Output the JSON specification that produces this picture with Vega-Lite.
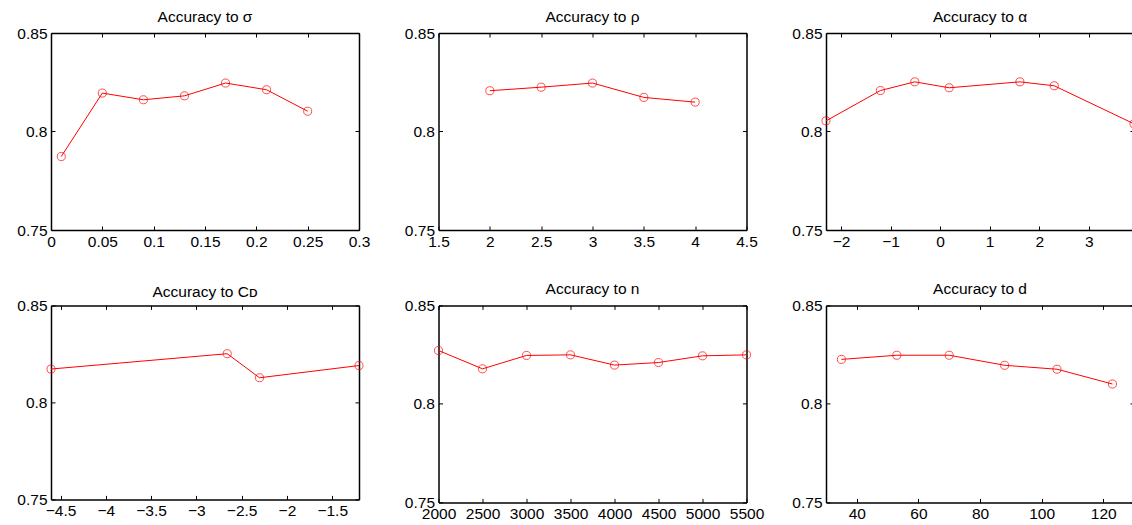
{
  "$schema": "https://vega.github.io/schema/vega-lite/v6.json",
  "background": "white",
  "padding": {"left": 16, "top": 9, "right": 0, "bottom": 0},
  "datasets": {
    "sigma": [
      {"x": 0.01, "acc": 0.7873}, {"x": 0.05, "acc": 0.8195}, {"x": 0.09, "acc": 0.8161},
      {"x": 0.13, "acc": 0.8181}, {"x": 0.17, "acc": 0.8246}, {"x": 0.21, "acc": 0.8212},
      {"x": 0.25, "acc": 0.8103}
    ],
    "rho": [
      {"x": 2, "acc": 0.8207}, {"x": 2.5, "acc": 0.8225}, {"x": 3, "acc": 0.8246},
      {"x": 3.5, "acc": 0.8173}, {"x": 4, "acc": 0.8149}
    ],
    "alpha": [
      {"x": -2.3026, "acc": 0.8054}, {"x": -1.204, "acc": 0.8208}, {"x": -0.5108, "acc": 0.8252},
      {"x": 0.1823, "acc": 0.8222}, {"x": 1.6094, "acc": 0.8252}, {"x": 2.3026, "acc": 0.8232},
      {"x": 3.912, "acc": 0.8039}
    ],
    "cd": [
      {"x": -4.6052, "acc": 0.8172}, {"x": -2.6593, "acc": 0.8251}, {"x": -2.3026, "acc": 0.8127},
      {"x": -1.204, "acc": 0.819}
    ],
    "n": [
      {"x": 2000, "acc": 0.8271}, {"x": 2500, "acc": 0.8178}, {"x": 3000, "acc": 0.8246},
      {"x": 3500, "acc": 0.8249}, {"x": 4000, "acc": 0.8197}, {"x": 4500, "acc": 0.821},
      {"x": 5000, "acc": 0.8244}, {"x": 5500, "acc": 0.8249}
    ],
    "d": [
      {"x": 35, "acc": 0.8226}, {"x": 53, "acc": 0.8247}, {"x": 70, "acc": 0.8247},
      {"x": 88, "acc": 0.8196}, {"x": 105, "acc": 0.8176}, {"x": 123, "acc": 0.8101}
    ]
  },
  "columns": 3,
  "bounds": "flush",
  "spacing": {"row": 75.4, "column": 79.5},
  "concat": [
    {
      "width": 308, "height": 197,
      "title": {"text": "Accuracy to σ"},
      "data": {"name": "sigma"},
      "layer": [
        {"mark": {"type": "line", "color": "#ff0000", "strokeWidth": 1},
         "encoding": {
           "x": {"field": "x", "type": "quantitative", "scale": {"domain": [0, 0.3], "nice": false, "zero": false},
                 "axis": {"orient": "bottom", "values": [0, 0.05, 0.1, 0.15, 0.2, 0.25, 0.3]}},
           "y": {"field": "acc", "type": "quantitative", "scale": {"domain": [0.75, 0.85], "nice": false, "zero": false},
                 "axis": {"orient": "left", "values": [0.75, 0.8, 0.85]}}}},
        {"mark": {"type": "point", "shape": "circle", "color": "#ff0000", "filled": false, "size": 65, "strokeWidth": 1},
         "encoding": {
           "x": {"field": "x", "type": "quantitative", "axis": {"orient": "top", "labels": false, "values": [0, 0.05, 0.1, 0.15, 0.2, 0.25, 0.3]}},
           "y": {"field": "acc", "type": "quantitative", "axis": {"orient": "right", "labels": false, "values": [0.75, 0.8, 0.85]}}}}
      ],
      "resolve": {"axis": {"x": "independent", "y": "independent"}}
    },
    {
      "width": 308, "height": 197,
      "title": {"text": "Accuracy to ρ"},
      "data": {"name": "rho"},
      "layer": [
        {"mark": {"type": "line", "color": "#ff0000", "strokeWidth": 1},
         "encoding": {
           "x": {"field": "x", "type": "quantitative", "scale": {"domain": [1.5, 4.5], "nice": false, "zero": false},
                 "axis": {"orient": "bottom", "values": [1.5, 2, 2.5, 3, 3.5, 4, 4.5]}},
           "y": {"field": "acc", "type": "quantitative", "scale": {"domain": [0.75, 0.85], "nice": false, "zero": false},
                 "axis": {"orient": "left", "values": [0.75, 0.8, 0.85]}}}},
        {"mark": {"type": "point", "shape": "circle", "color": "#ff0000", "filled": false, "size": 65, "strokeWidth": 1},
         "encoding": {
           "x": {"field": "x", "type": "quantitative", "axis": {"orient": "top", "labels": false, "values": [1.5, 2, 2.5, 3, 3.5, 4, 4.5]}},
           "y": {"field": "acc", "type": "quantitative", "axis": {"orient": "right", "labels": false, "values": [0.75, 0.8, 0.85]}}}}
      ],
      "resolve": {"axis": {"x": "independent", "y": "independent"}}
    },
    {
      "width": 308, "height": 197,
      "title": {"text": "Accuracy to α"},
      "data": {"name": "alpha"},
      "layer": [
        {"mark": {"type": "line", "color": "#ff0000", "strokeWidth": 1},
         "encoding": {
           "x": {"field": "x", "type": "quantitative", "scale": {"domain": [-2.3026, 3.912], "nice": false, "zero": false},
                 "axis": {"orient": "bottom", "values": [-2, -1, 0, 1, 2, 3]}},
           "y": {"field": "acc", "type": "quantitative", "scale": {"domain": [0.75, 0.85], "nice": false, "zero": false},
                 "axis": {"orient": "left", "values": [0.75, 0.8, 0.85]}}}},
        {"mark": {"type": "point", "shape": "circle", "color": "#ff0000", "filled": false, "size": 65, "strokeWidth": 1},
         "encoding": {
           "x": {"field": "x", "type": "quantitative", "axis": {"orient": "top", "labels": false, "values": [-2, -1, 0, 1, 2, 3]}},
           "y": {"field": "acc", "type": "quantitative", "axis": {"orient": "right", "labels": false, "values": [0.75, 0.8, 0.85]}}}}
      ],
      "resolve": {"axis": {"x": "independent", "y": "independent"}}
    },
    {
      "width": 308, "height": 194,
      "title": {"text": "Accuracy to Cᴅ", "offset": -2},
      "data": {"name": "cd"},
      "layer": [
        {"mark": {"type": "line", "color": "#ff0000", "strokeWidth": 1},
         "encoding": {
           "x": {"field": "x", "type": "quantitative", "scale": {"domain": [-4.6052, -1.204], "nice": false, "zero": false},
                 "axis": {"orient": "bottom", "values": [-4.5, -4, -3.5, -3, -2.5, -2, -1.5]}},
           "y": {"field": "acc", "type": "quantitative", "scale": {"domain": [0.75, 0.85], "nice": false, "zero": false},
                 "axis": {"orient": "left", "values": [0.75, 0.8, 0.85]}}}},
        {"mark": {"type": "point", "shape": "circle", "color": "#ff0000", "filled": false, "size": 65, "strokeWidth": 1},
         "encoding": {
           "x": {"field": "x", "type": "quantitative", "axis": {"orient": "top", "labels": false, "values": [-4.5, -4, -3.5, -3, -2.5, -2, -1.5]}},
           "y": {"field": "acc", "type": "quantitative", "axis": {"orient": "right", "labels": false, "values": [0.75, 0.8, 0.85]}}}}
      ],
      "resolve": {"axis": {"x": "independent", "y": "independent"}}
    },
    {
      "width": 308, "height": 197,
      "title": {"text": "Accuracy to n"},
      "data": {"name": "n"},
      "layer": [
        {"mark": {"type": "line", "color": "#ff0000", "strokeWidth": 1},
         "encoding": {
           "x": {"field": "x", "type": "quantitative", "scale": {"domain": [2000, 5500], "nice": false, "zero": false},
                 "axis": {"orient": "bottom", "values": [2000, 2500, 3000, 3500, 4000, 4500, 5000, 5500]}},
           "y": {"field": "acc", "type": "quantitative", "scale": {"domain": [0.75, 0.85], "nice": false, "zero": false},
                 "axis": {"orient": "left", "values": [0.75, 0.8, 0.85]}}}},
        {"mark": {"type": "point", "shape": "circle", "color": "#ff0000", "filled": false, "size": 65, "strokeWidth": 1},
         "encoding": {
           "x": {"field": "x", "type": "quantitative", "axis": {"orient": "top", "labels": false, "values": [2000, 2500, 3000, 3500, 4000, 4500, 5000, 5500]}},
           "y": {"field": "acc", "type": "quantitative", "axis": {"orient": "right", "labels": false, "values": [0.75, 0.8, 0.85]}}}}
      ],
      "resolve": {"axis": {"x": "independent", "y": "independent"}}
    },
    {
      "width": 308, "height": 197,
      "title": {"text": "Accuracy to d"},
      "data": {"name": "d"},
      "layer": [
        {"mark": {"type": "line", "color": "#ff0000", "strokeWidth": 1},
         "encoding": {
           "x": {"field": "x", "type": "quantitative", "scale": {"domain": [30, 130], "nice": false, "zero": false},
                 "axis": {"orient": "bottom", "values": [40, 60, 80, 100, 120]}},
           "y": {"field": "acc", "type": "quantitative", "scale": {"domain": [0.75, 0.85], "nice": false, "zero": false},
                 "axis": {"orient": "left", "values": [0.75, 0.8, 0.85]}}}},
        {"mark": {"type": "point", "shape": "circle", "color": "#ff0000", "filled": false, "size": 65, "strokeWidth": 1},
         "encoding": {
           "x": {"field": "x", "type": "quantitative", "axis": {"orient": "top", "labels": false, "values": [40, 60, 80, 100, 120]}},
           "y": {"field": "acc", "type": "quantitative", "axis": {"orient": "right", "labels": false, "values": [0.75, 0.8, 0.85]}}}}
      ],
      "resolve": {"axis": {"x": "independent", "y": "independent"}}
    }
  ],
  "config": {
    "font": "Liberation Sans",
    "view": {"stroke": null},
    "title": {"font": "Liberation Sans", "fontSize": 15.5, "fontWeight": "normal", "color": "black", "frame": "group", "anchor": "middle", "baseline": "alphabetic", "offset": 1},
    "axis": {
      "title": null, "grid": false, "format": "~r", "minExtent": 0,
      "labelFont": "Liberation Sans", "labelFontSize": 15.5, "labelColor": "black",
      "labelFlush": false, "labelOverlap": false, "labelPadding": 8,
      "domainColor": "black", "domainWidth": 1.5,
      "tickColor": "black", "tickSize": -4, "tickWidth": 1
    },
    "axisX": {"labelPadding": 8.5}
  }
}
